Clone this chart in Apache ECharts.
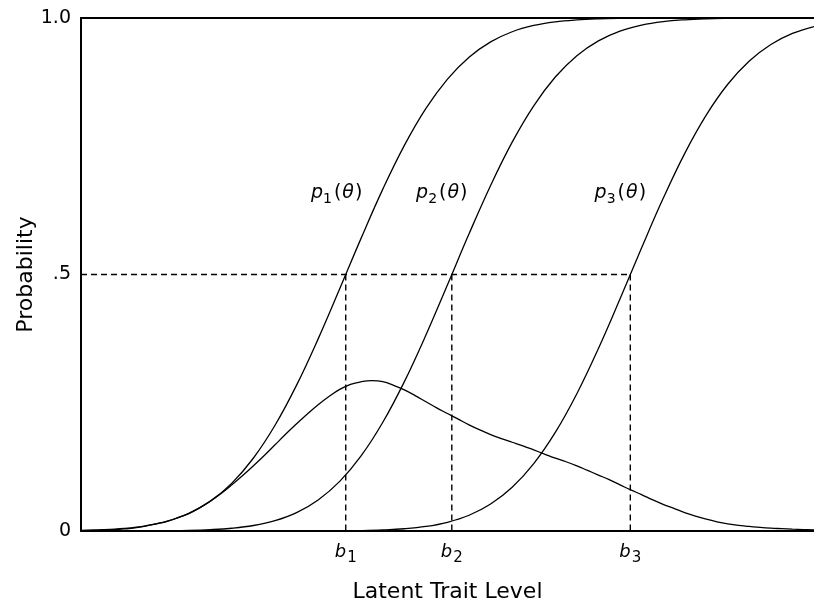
<!DOCTYPE html>
<html>
<head>
<meta charset="utf-8">
<script src="https://cdn.jsdelivr.net/npm/echarts@6/dist/echarts.min.js"></script>
<style>
html,body{margin:0;padding:0;background:#fff;}
#chart{width:814px;height:608px;}
</style>
</head>
<body>
<div id="chart"></div>
<script>
// Latent trait (theta) sample points for the item curves
const theta = [-4,-3.75,-3.5,-3.25,-3,-2.75,-2.5,-2.25,-2,-1.75,-1.5,-1.25,-1,-0.75,-0.5,-0.25,0,0.25,0.5,0.75,1,1.25,1.5,1.75,2,2.25,2.5,2.75,3,3.25,3.5,3.75,4,4.25,4.5];
// Item characteristic curves
const p1 = [0.0011,0.0024,0.0051,0.0102,0.0192,0.0344,0.0582,0.0934,0.1423,0.2061,0.2843,0.3745,0.4721,0.5714,0.6664,0.7517,0.8238,0.8810,0.9236,0.9535,0.9732,0.9854,0.9925,0.9963,0.9983,0.9993,0.9997,0.9999,1,1,1,1,1,1,1];
const p2 = [0,0,0.0001,0.0002,0.0005,0.0011,0.0026,0.0054,0.0107,0.0202,0.0359,0.0606,0.0968,0.1469,0.2119,0.2912,0.3821,0.4801,0.5793,0.6736,0.7580,0.8289,0.8849,0.9265,0.9554,0.9744,0.9861,0.9929,0.9965,0.9984,0.9993,0.9997,0.9999,1,1];
const p3 = [0,0,0,0,0,0,0,0,0,0,0.0001,0.0001,0.0004,0.0009,0.0021,0.0044,0.0089,0.0170,0.0307,0.0526,0.0853,0.1314,0.1922,0.2676,0.3557,0.4522,0.5517,0.6480,0.7357,0.8106,0.8708,0.9162,0.9484,0.9699,0.9834];
// Bell-shaped curve, sampled more finely
const bellTheta = [-4,-3.875,-3.75,-3.625,-3.5,-3.375,-3.25,-3.125,-3,-2.875,-2.75,-2.625,-2.5,-2.375,-2.25,-2.125,-2,-1.875,-1.75,-1.625,-1.5,-1.375,-1.25,-1.125,-1,-0.875,-0.75,-0.625,-0.5,-0.375,-0.25,-0.125,0,0.125,0.25,0.375,0.5,0.625,0.75,0.875,1,1.125,1.25,1.375,1.5,1.625,1.75,1.875,2,2.125,2.25,2.375,2.5,2.625,2.75,2.875,3,3.125,3.25,3.375,3.5,3.625,3.75,3.875,4,4.125,4.25,4.375,4.5];
const bell = [0.0005,0.001,0.0016,0.0025,0.004,0.006,0.0095,0.014,0.019,0.026,0.034,0.045,0.058,0.073,0.090,0.108,0.127,0.147,0.168,0.189,0.209,0.228,0.246,0.262,0.276,0.286,0.291,0.293,0.291,0.284,0.275,0.264,0.252,0.240,0.229,0.218,0.207,0.197,0.188,0.180,0.173,0.166,0.158,0.150,0.142,0.135,0.127,0.118,0.109,0.100,0.090,0.080,0.071,0.061,0.052,0.044,0.036,0.029,0.023,0.018,0.014,0.011,0.009,0.007,0.0055,0.0045,0.0035,0.0027,0.002];
// Item difficulties (b) and their labels
const bValues = [-0.93, 0.30, 2.37];
const bSubs = ['1','2','3'];
const halfProb = 0.5;
// Curve labels
const curveLabelTheta = [-1.03, 0.19, 2.26];
const curveLabelProb = [0.658, 0.658, 0.658];
const curveLabelSubs = ['1','2','3'];
// Y tick labels
const yTickValues = [0, 0.5, 1];
const yTickLabels = ['0', '.5', '1.0'];
const xMin = -4, xMax = 4.5;

const FONT = 'DejaVu Sans, Liberation Sans, Arial, sans-serif';
const INK = '#000';
const zip = (xs, ys) => xs.map((x, i) => [x, ys[i]]);

const curveStyle = {color: INK, width: 1.3};
const dashStyle = {color: INK, width: 1.4, type: [6, 4]};

const series = [];
[[theta, p1], [theta, p2], [theta, p3], [bellTheta, bell]].forEach(([xs, ys]) => {
  series.push({
    type: 'line', data: zip(xs, ys), showSymbol: false, symbol: 'none',
    smooth: 0.4, lineStyle: curveStyle, silent: true, z: 3
  });
});
// Horizontal dashed line at p = .5 up to b3
series.push({
  type: 'line', data: [[xMin, halfProb], [bValues[2], halfProb]],
  symbol: 'none', lineStyle: dashStyle, silent: true, z: 2
});
bValues.forEach(b => {
  series.push({
    type: 'line', data: [[b, halfProb], [b, 0]],
    symbol: 'none', lineStyle: dashStyle, silent: true, z: 2
  });
});
// Curve labels
const txt = (extra) => Object.assign({fontFamily: FONT, color: INK, textBorderWidth: 0, opacity: 1}, extra);
series.push({
  type: 'scatter', symbolSize: 0, silent: true, z: 5,
  itemStyle: {color: INK, opacity: 1},
  data: curveLabelTheta.map((t, i) => ({
    value: [t, curveLabelProb[i]],
    label: {
      show: true, position: 'inside', color: INK, opacity: 1, textBorderWidth: 0, textBorderColor: 'transparent',
      formatter: '{p|p}{s|' + curveLabelSubs[i] + '}{n|(}{t|θ}{n|)}',
      rich: {
        p: txt({fontStyle: 'italic', fontSize: 19}),
        s: txt({fontSize: 14, padding: [11, 1, 0, 0]}),
        n: txt({fontSize: 19, padding: [0, 1, 0, 1]}),
        t: txt({fontStyle: 'italic', fontSize: 19})
      }
    }
  }))
});

const chart = echarts.init(document.getElementById('chart'), null, {renderer: 'canvas'});
chart.setOption({
  backgroundColor: '#fff',
  animation: false,
  grid: {left: 81, right: 0, top: 18, bottom: 73, containLabel: false},
  xAxis: [{
    type: 'value', min: xMin, max: xMax,
    axisLine: {show: true, onZero: false, lineStyle: {color: INK, width: 2}},
    axisTick: {show: false},
    splitLine: {show: false},
    axisLabel: {
      show: true, customValues: bValues, margin: 7,
      formatter: (v) => {
        const i = bValues.findIndex(b => Math.abs(b - v) < 1e-6);
        return '{b|b}{s|' + bSubs[i] + '}';
      },
      rich: {
        b: txt({fontStyle: 'italic', fontSize: 18}),
        s: txt({fontSize: 15, padding: [13, 0, 0, 1]})
      }
    },
    name: 'Latent Trait Level', nameLocation: 'middle', nameGap: 50, nameMoveOverlap: false,
    nameTextStyle: {fontFamily: FONT, fontSize: 22, color: INK}
  }, {
    type: 'value', min: xMin, max: xMax, position: 'top',
    axisLine: {show: true, onZero: false, lineStyle: {color: INK, width: 2}},
    axisTick: {show: false}, axisLabel: {show: false}, splitLine: {show: false}
  }],
  yAxis: {
    type: 'value', min: 0, max: 1, interval: 0.5,
    axisLine: {show: true, onZero: false, lineStyle: {color: INK, width: 2}},
    axisTick: {show: false},
    splitLine: {show: false},
    axisLabel: {
      margin: 10, fontFamily: FONT, fontSize: 19, color: INK,
      formatter: (v) => {
        const i = yTickValues.findIndex(t => Math.abs(t - v) < 1e-6);
        return i >= 0 ? yTickLabels[i] : '';
      }
    },
    name: 'Probability', nameLocation: 'middle', nameGap: 44, nameRotate: 90, nameMoveOverlap: false,
    nameTextStyle: {fontFamily: FONT, fontSize: 22, color: INK}
  },
  series: series
});
</script>
</body>
</html>
